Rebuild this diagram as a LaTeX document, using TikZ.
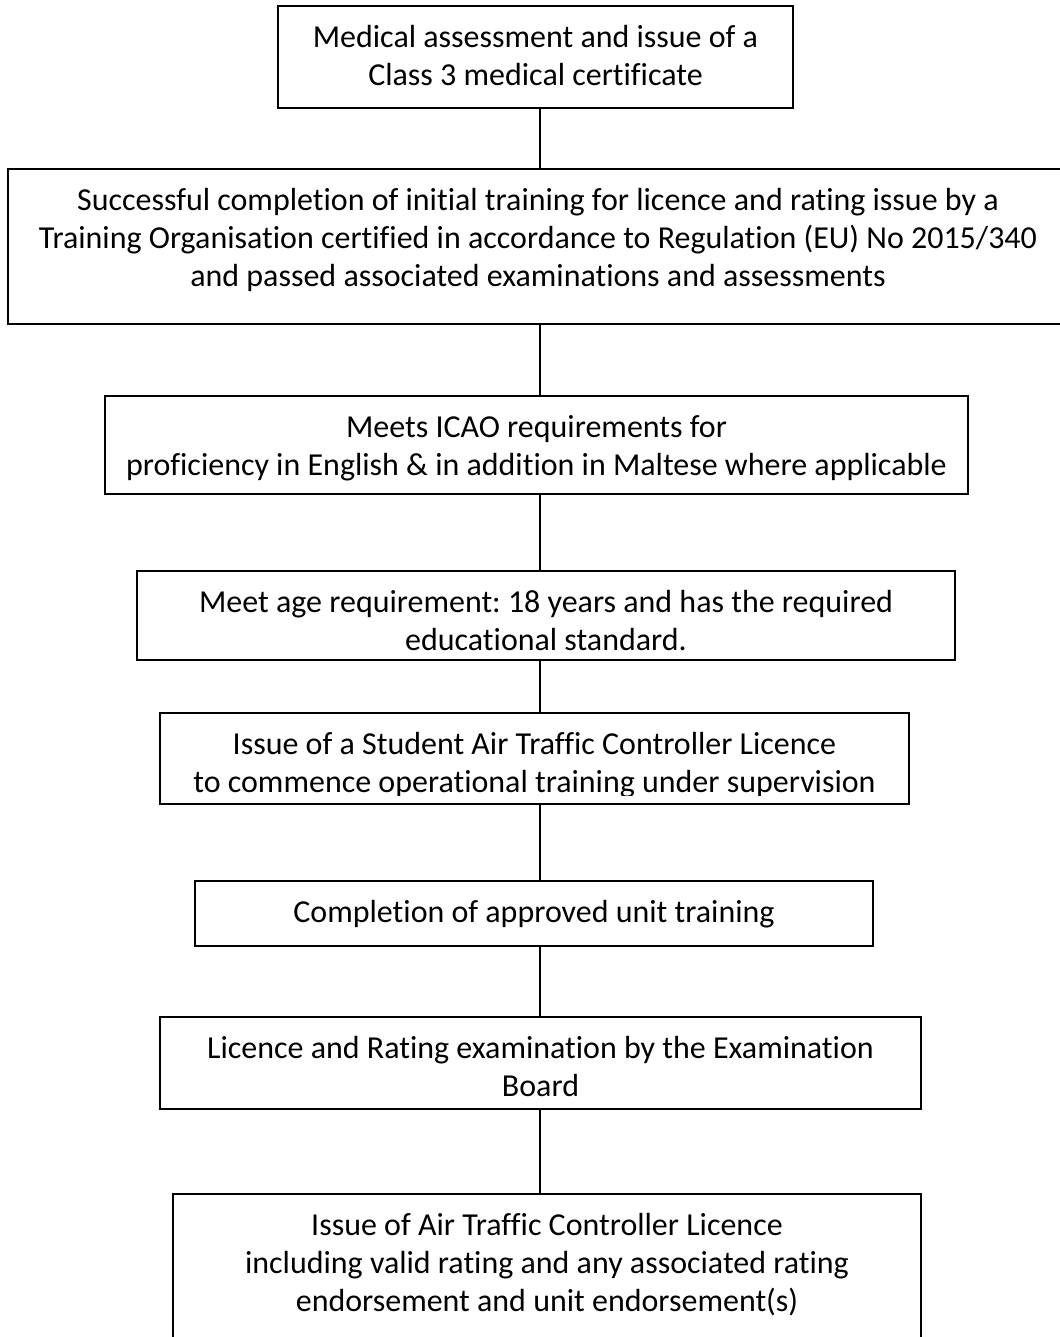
\documentclass[tikz,border=0pt]{standalone}
\usepackage{fontspec}
\setmainfont{Carlito}[Ligatures=CommonOff]
\usepackage{tikz}
\usetikzlibrary{calc, positioning}

\newlength{\px}
\setlength{\px}{0.02cm}
\newcommand{\stagetext}[3]{\parbox[t][#2\px][t]{#1\px}{\centering\rule{0pt}{42\px}#3}}
\frenchspacing

\begin{document}
\begin{tikzpicture}[x=0.02cm, y=-0.02cm, font=\fontsize{18.2}{21.6}\selectfont,
  stagebox/.style={draw, line width=1.1pt, inner sep=0pt, anchor=north},
  link/.style={line width=0.8pt}]
  \useasboundingbox (0,0) rectangle (1060,1337);
  \coordinate (spine) at (540,0);

  \node[stagebox] (medical) at (535.5,5) {\stagetext{515}{102}{Medical assessment and issue of a\\Class 3 medical certificate}};
  \node[stagebox] (training) at (538,168) {\stagetext{1060}{155}{Successful completion of initial training for licence and rating issue by a\\Training Organisation certified in accordance to Regulation (EU) No 2015/340\\and passed associated examinations and assessments}};
  \node[stagebox] (icao) at (536.5,395) {\stagetext{863}{98}{Meets ICAO requirements for\\proficiency in English \& in addition in Maltese where applicable}};
  \node[stagebox] (age) at (546,570) {\stagetext{818}{89}{Meet age requirement: 18 years and has the required\\educational standard.}};
  \node[stagebox] (student) at (534.5,712) {\stagetext{749}{91}{Issue of a Student Air Traffic Controller Licence\\to commence operational training under supervision}};
  \node[stagebox] (unit) at (534,880) {\stagetext{678}{65}{Completion of approved unit training}};
  \node[stagebox] (exam) at (540.5,1016) {\stagetext{761}{92}{Licence and Rating examination by the Examination\\Board}};
  \node[stagebox] (atcl) at (547,1193) {\stagetext{748}{170}{Issue of Air Traffic Controller Licence\\including valid rating and any associated rating\\endorsement and unit endorsement(s)}};

  \fill[white] ($(student.south west)+(2,-1.5)$) rectangle ($(student.south east)+(-2,-9)$);

  \draw[link] (medical.south -| spine) -- (training.north -| spine);
  \draw[link] (training.south -| spine) -- (icao.north -| spine);
  \draw[link] (icao.south -| spine) -- (age.north -| spine);
  \draw[link] (age.south -| spine) -- (student.north -| spine);
  \draw[link] (student.south -| spine) -- (unit.north -| spine);
  \draw[link] (unit.south -| spine) -- (exam.north -| spine);
  \draw[link] (exam.south -| spine) -- (atcl.north -| spine);
\end{tikzpicture}
\end{document}
